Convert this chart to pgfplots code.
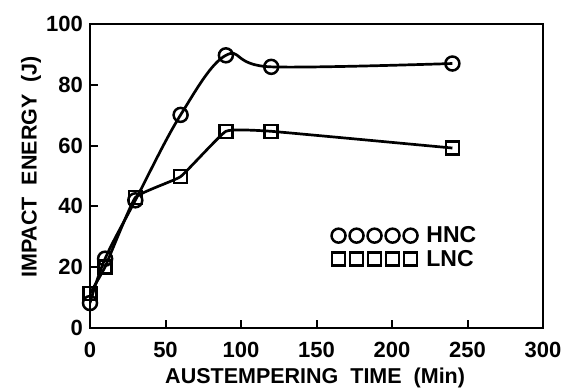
\documentclass[border=0pt]{standalone}
\usepackage{pgfplots}
\pgfplotsset{compat=1.18}
\usepackage{fontspec}
\setmainfont{Liberation Sans}
\begin{document}
\begin{tikzpicture}
\begin{axis}[
  scale only axis,
  width=453pt, height=304pt,
  xmin=0, xmax=300, ymin=0, ymax=100,
  xtick={0,50,100,150,200,250,300},
  ytick={0,20,40,60,80,100},
  tick pos=left,
  tick align=inside,
  major tick length=8pt,
  every tick/.style={line width=2pt, black},
  axis line style={line width=2.5pt},
  /pgf/number format/assume math mode=true,
  ticklabel style={font=\bfseries\fontsize{22}{22}\selectfont},
  xticklabel style={anchor=center, yshift=-22pt, inner sep=0pt},
  yticklabel style={anchor=east, inner sep=0pt, xshift=-7pt},
  xlabel={AUSTEMPERING\ \ TIME\ \ (Min)},
  ylabel={IMPACT\ \ ENERGY\ \ (J)},
  label style={font=\bfseries\fontsize{21.5}{21.5}\selectfont},
  xlabel style={at={(axis description cs:0.497,0)}, anchor=center, yshift=-50pt},
  ylabel style={at={(axis description cs:-0.130,0.53)}, anchor=center},
  legend cell align=left,
  legend style={at={(axis cs:159,26.5)}, anchor=west, draw=none, fill=none,
    inner sep=0pt, row sep=3pt, font=\bfseries\fontsize{23}{23}\selectfont,
    nodes={inner sep=1.5pt}},
]
\addplot[black, line width=2.7pt, smooth, tension=0.6,
  mark=o, mark size=7pt, mark options={fill=white, line width=2.5pt},
  legend image code/.code={\foreach \i in {0,...,4}{\draw[black, line width=2.5pt, fill=white] (\i*18pt+8pt,0) circle (7pt);}\path (93pt,0);}]
  coordinates {(0,8.2) (10,22.8) (30,42) (60,70.1) (90,89.7) (120,85.9) (240,87)};
\addlegendentry{HNC}
\addplot[black, line width=2.7pt, smooth, tension=0.2,
  mark=square, mark size=6.5pt, mark options={fill=white, line width=2.5pt},
  legend image code/.code={\foreach \i in {0,...,4}{\draw[black, line width=2.5pt, fill=white] (\i*18pt+1.5pt,-6.5pt) rectangle ++(13pt,13pt);}\path (93pt,0);}]
  coordinates {(0,11.4) (10,20.1) (30,42.9) (60,49.8) (90,64.7) (120,64.7) (240,59.2)};
\addlegendentry{LNC}
\end{axis}
\pgfresetboundingbox
\path (current axis.south west) ++(-90pt,-62pt) coordinate (bl);
\path (current axis.north east) ++(31pt,24pt) coordinate (tr);
\path (bl) rectangle (tr);
\end{tikzpicture}
\end{document}
